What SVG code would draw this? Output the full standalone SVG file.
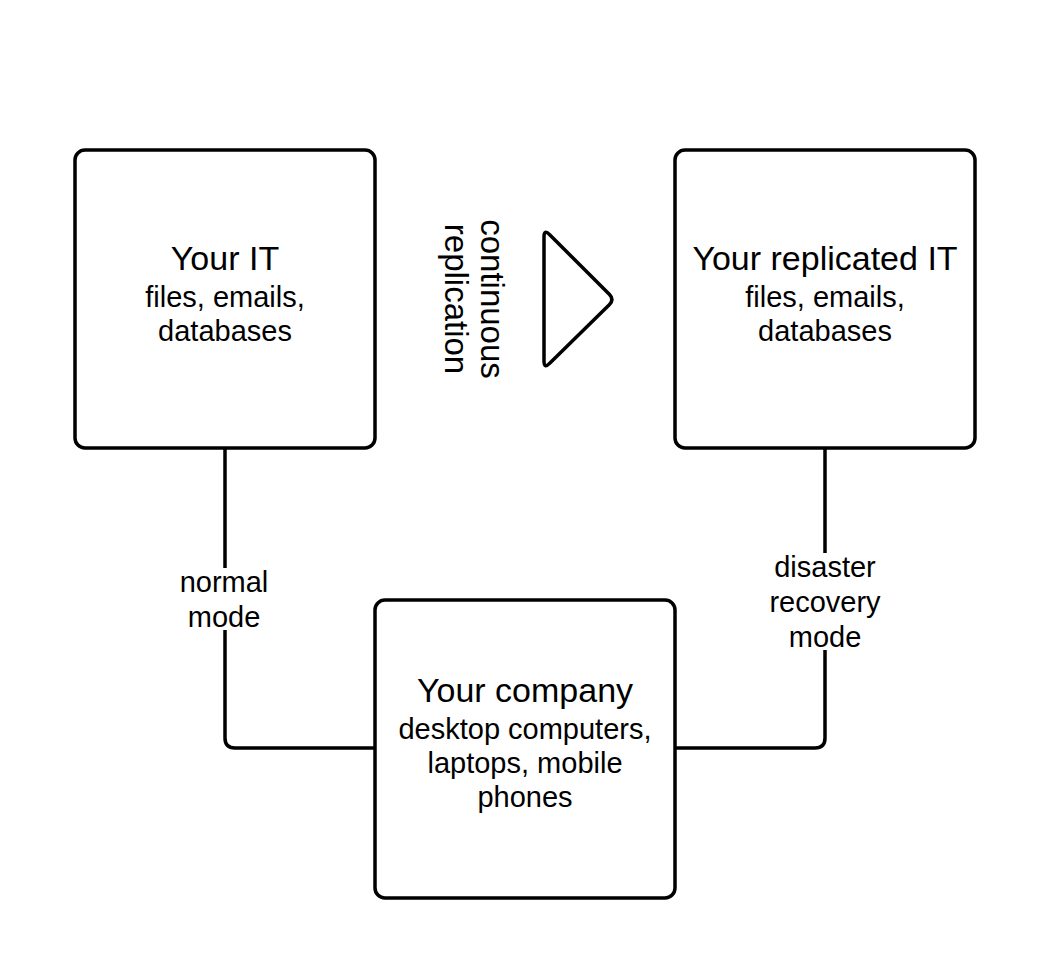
<svg xmlns="http://www.w3.org/2000/svg" width="1050" height="975" viewBox="0 0 1050 975">
<style>
.box{fill:#fff;stroke:#000;stroke-width:3.5}
.ln{fill:none;stroke:#000;stroke-width:3.5;stroke-linejoin:round}
text{font-family:"Liberation Sans",Arial,sans-serif;fill:#000;text-anchor:middle}
.t{font-size:34px}
.s{font-size:29px}
.v{font-size:33px}
</style>
<rect width="1050" height="975" fill="#fff"/>
<g id="connectors">
<path class="ln" d="M225,449 V568 M225,630 V738 Q225,748 235,748 H375"/>
<path class="ln" d="M825,449 V553 M825,650 V738 Q825,748 815,748 H675"/>
<text class="s" x="224" y="592">normal</text>
<text class="s" x="224" y="627">mode</text>
<text class="s" x="825" y="577">disaster</text>
<text class="s" x="825" y="612">recovery</text>
<text class="s" x="825" y="647">mode</text>
</g>
<g id="your-it">
<rect class="box" x="75" y="150" width="300" height="298" rx="10"/>
<text class="t" x="225" y="270">Your IT</text>
<text class="s" x="225" y="307">files, emails,</text>
<text class="s" x="225" y="341">databases</text>
</g>
<g id="replicated-it">
<rect class="box" x="675" y="150" width="300" height="298" rx="10"/>
<text class="t" x="825" y="270">Your replicated IT</text>
<text class="s" x="825" y="307">files, emails,</text>
<text class="s" x="825" y="341">databases</text>
</g>
<g id="company">
<rect class="box" x="375" y="600" width="300" height="298" rx="10"/>
<text class="t" x="525" y="702">Your company</text>
<text class="s" x="525" y="739">desktop computers,</text>
<text class="s" x="525" y="773">laptops, mobile</text>
<text class="s" x="525" y="807">phones</text>
</g>
<g id="replication">
<path class="ln" d="M544,237 Q544,229 549.7,234.7 L609.3,294.3 Q614.5,299.5 609.3,304.7 L549.7,363.3 Q544,369 544,361 Z"/>
<text class="v" transform="translate(481,299) rotate(90)" x="0" y="0">continuous</text>
<text class="v" transform="translate(445,299) rotate(90)" x="0" y="0">replication</text>
</g>
</svg>
